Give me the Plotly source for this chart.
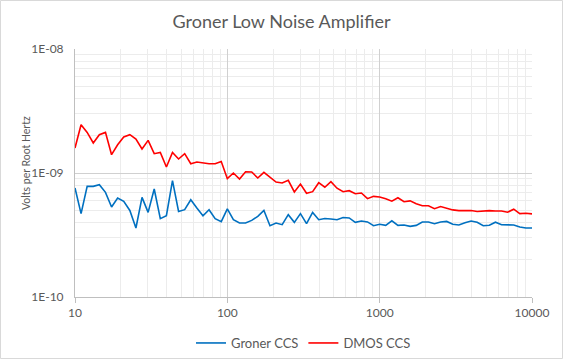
import plotly.graph_objects as go

freq_hz = [
    10, 10.96, 12.02, 13.18, 14.45, 15.85, 17.38, 19.05, 20.89, 22.91, 25.12, 27.54, 30.2,
    33.11, 36.31, 39.81, 43.65, 47.86, 52.48, 57.54, 63.1, 69.18, 75.86, 83.18, 91.2,
    100, 109.6, 120.2, 131.8, 144.5, 158.5, 173.8, 190.5, 208.9, 229.1, 251.2, 275.4, 302,
    331.1, 363.1, 398.1, 436.5, 478.6, 524.8, 575.4, 631, 691.8, 758.6, 831.8, 912,
    1000, 1096, 1202, 1318, 1445, 1585, 1738, 1905, 2089, 2291, 2512, 2754, 3020,
    3311, 3631, 3981, 4365, 4786, 5248, 5754, 6310, 6918, 7586, 8318, 9120, 10000,
]

# values in nV/rtHz (scaled to V below)
groner_ccs_nv = [
    0.757, 0.470, 0.780, 0.780, 0.805, 0.698, 0.532, 0.629, 0.590, 0.499, 0.360, 0.636, 0.481,
    0.743, 0.428, 0.452, 0.867, 0.490, 0.506, 0.609, 0.522, 0.452, 0.506, 0.428, 0.405,
    0.513, 0.420, 0.395, 0.395, 0.415, 0.447, 0.499, 0.376, 0.395, 0.383, 0.461, 0.400, 0.470,
    0.390, 0.481, 0.420, 0.430, 0.426, 0.420, 0.438, 0.434, 0.400, 0.410, 0.403, 0.376,
    0.386, 0.378, 0.412, 0.378, 0.381, 0.371, 0.378, 0.403, 0.403, 0.390, 0.403, 0.407, 0.386,
    0.381, 0.397, 0.410, 0.401, 0.376, 0.379, 0.401, 0.383, 0.381, 0.381, 0.367, 0.360, 0.360,
]

dmos_ccs_nv = [
    1.591, 2.452, 2.125, 1.746, 2.036, 2.125, 1.405, 1.691, 1.951, 2.036, 1.880, 1.561, 1.832,
    1.431, 1.466, 1.118, 1.466, 1.297, 1.431, 1.188, 1.227, 1.204, 1.188, 1.188, 1.240,
    0.900, 1.000, 0.895, 1.024, 1.019, 0.911, 1.011, 0.922, 0.846, 0.831, 0.872, 0.703, 0.815,
    0.687, 0.707, 0.835, 0.768, 0.851, 0.754, 0.707, 0.720, 0.681, 0.690, 0.621, 0.648,
    0.641, 0.621, 0.592, 0.632, 0.587, 0.596, 0.566, 0.545, 0.545, 0.515, 0.537, 0.522, 0.504,
    0.497, 0.497, 0.498, 0.489, 0.495, 0.497, 0.494, 0.494, 0.483, 0.511, 0.470, 0.474, 0.468,
]

x_tick_vals = [10, 100, 1000, 10000]
x_tick_text = ["10", "100", "1000", "10000"]
y_tick_vals = [1e-10, 1e-9, 1e-8]
y_tick_text = ["1E-10", "1E-09", "1E-08"]

groner_ccs = [v * 1e-9 for v in groner_ccs_nv]
dmos_ccs = [v * 1e-9 for v in dmos_ccs_nv]

FONT = "Lato"
GREY = "#595959"

fig = go.Figure()
fig.add_trace(go.Scatter(x=freq_hz, y=groner_ccs, mode="lines", name="Groner CCS",
                         line=dict(color="#0070C0", width=1.6)))
fig.add_trace(go.Scatter(x=freq_hz, y=dmos_ccs, mode="lines", name="DMOS CCS",
                         line=dict(color="#FF0000", width=1.6)))

L, R, T, B = 75, 31, 49, 62
W, H = 563, 359
pw, ph = W - L - R, H - T - B

fig.update_layout(
    width=W, height=H,
    margin=dict(l=L, r=R, t=T, b=B, autoexpand=False),
    paper_bgcolor="white", plot_bgcolor="white",
    font=dict(family=FONT, size=12, color=GREY),
    title=dict(text="Groner Low Noise Amplifier", x=0.5, xanchor="center",
               y=1 - 22 / H, yanchor="middle", yref="container",
               font=dict(family=FONT, size=18, color=GREY)),
    legend=dict(orientation="h", x=0.5, xanchor="center", y=1 - 343 / H,
                yanchor="middle", yref="container",
                font=dict(family=FONT, size=13, color=GREY),
                itemwidth=30, tracegroupgap=0),
    showlegend=True,
    shapes=[dict(type="rect", xref="paper", yref="paper",
                 x0=-(L - 0.5) / pw, x1=1 + (R - 0.5) / pw,
                 y0=-(B - 0.5) / ph, y1=1 + (T - 0.5) / ph,
                 line=dict(color="#d9d9d9", width=1), layer="below")],
    annotations=[dict(text="Volts per Root Hertz", textangle=-90,
                      xref="paper", yref="paper",
                      x=(26 - L) / pw, y=(H - B - 163) / ph,
                      xanchor="center", yanchor="middle", showarrow=False,
                      font=dict(family=FONT, size=10.5, color=GREY))],
)

fig.update_xaxes(
    type="log", range=[1, 4],
    tickvals=x_tick_vals, ticktext=x_tick_text,
    showgrid=True, gridcolor="#d0d0d0", gridwidth=1,
    minor=dict(showgrid=True, gridcolor="#ececec", dtick="D1", ticks=""),
    showline=True, linecolor="#bfbfbf", linewidth=1,
    ticks="outside", ticklen=5, tickcolor="#bfbfbf",
    tickfont=dict(family=FONT, size=12, color=GREY),
    zeroline=False, mirror=False,
)
fig.update_yaxes(
    type="log", range=[-10, -8],
    tickvals=y_tick_vals, ticktext=y_tick_text,
    showgrid=True, gridcolor="#d0d0d0", gridwidth=1,
    minor=dict(showgrid=True, gridcolor="#ececec", dtick="D1", ticks=""),
    showline=True, linecolor="#bfbfbf", linewidth=1,
    ticks="", ticklabelstandoff=8,
    tickfont=dict(family=FONT, size=12, color=GREY),
    zeroline=False,
)

fig.write_html("out.html", config={"displayModeBar": False},
               post_script="document.body.style.margin='0';document.body.style.overflow='hidden';")
